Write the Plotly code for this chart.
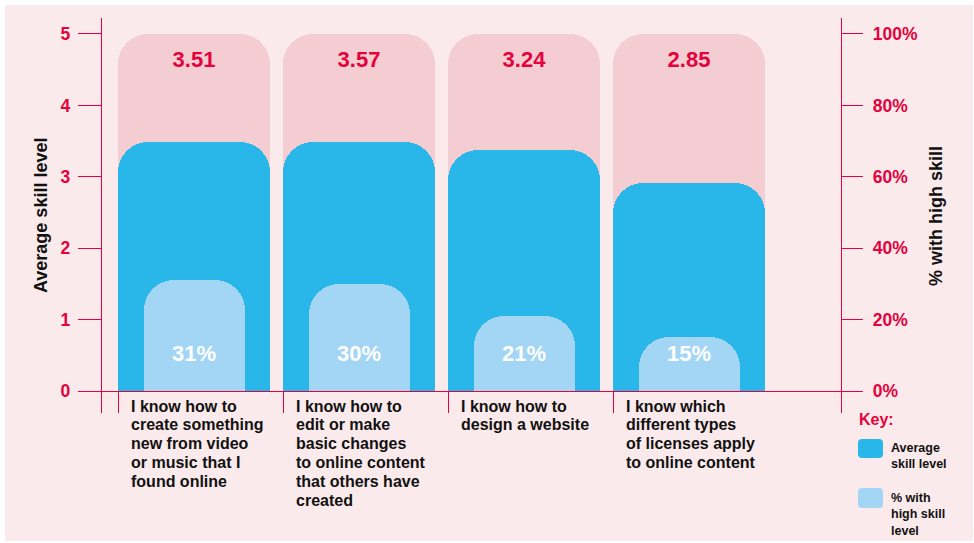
import plotly.graph_objects as go

# ---------------- data ----------------
categories = [
    "I know how to\ncreate something\nnew from video\nor music that I\nfound online",
    "I know how to\nedit or make\nbasic changes\nto online content\nthat others have\ncreated",
    "I know how to\ndesign a website",
    "I know which\ndifferent types\nof licenses apply\nto online content",
]
avg_labels = ["3.51", "3.57", "3.24", "2.85"]          # printed average skill
avg_bar_heights = [3.49, 3.49, 3.38, 2.91]             # bar heights as drawn
pct_high_skill = [31, 30, 21, 15]                      # % with high skill
scale_max = [5, 5, 5, 5]                               # top of skill scale
left_ticks = [0, 1, 2, 3, 4, 5]
right_ticks = [0, 20, 40, 60, 80, 100]
right_tick_text = [f"{v}%" for v in right_ticks]

# ---------------- style ----------------
RED = "#e3023d"
BG = "#fbeaeb"
PINK = "#f3cdd1"
BLUE = "#29b6e9"
LIGHT = "#a3d5f4"
FONT = "Liberation Sans, Arial, sans-serif"

W, H = 974, 543
L, R, T, B = 102, 133, 18, 130
PW, PH = W - L - R, H - T - B
BAR_W = 0.921
LIGHT_W = 0.612
X_RANGE = [-0.5576, 3.921]
Y_RANGE = [-0.308, 5.224]
PCT_RANGE = [Y_RANGE[0] * 20, Y_RANGE[1] * 20]
AVG_LABEL_Y = 4.62
PCT_LABEL_Y = 10

x = list(range(len(categories)))


def px(xp):
    return (xp - L) / PW


def py(yp):
    return (T + PH - yp) / PH


def rounded_rect(x0, y0, x1, y1, r):
    X0, X1 = px(x0), px(x1)
    Y0, Y1 = py(y0), py(y1)
    rx, ry = r / PW, r / PH
    return (f"M {X0+rx},{Y0} L {X1-rx},{Y0} Q {X1},{Y0} {X1},{Y0-ry} "
            f"L {X1},{Y1+ry} Q {X1},{Y1} {X1-rx},{Y1} L {X0+rx},{Y1} "
            f"Q {X0},{Y1} {X0},{Y1+ry} L {X0},{Y0-ry} Q {X0},{Y0} {X0+rx},{Y0} Z")


fig = go.Figure()

fig.add_trace(go.Bar(x=x, y=scale_max, width=BAR_W, yaxis="y",
                     marker=dict(color=PINK, line=dict(width=0), cornerradius=30),
                     showlegend=False, hoverinfo="skip"))
fig.add_trace(go.Bar(x=x, y=avg_bar_heights, width=BAR_W, yaxis="y2", name="Average skill level",
                     marker=dict(color=BLUE, line=dict(width=0), cornerradius=30), showlegend=False,
                     customdata=avg_labels, hovertemplate="%{customdata}<extra></extra>"))
fig.add_trace(go.Bar(x=x, y=pct_high_skill, width=LIGHT_W, yaxis="y3", name="% with high skill level",
                     marker=dict(color=LIGHT, line=dict(width=0), cornerradius=30), showlegend=False,
                     hovertemplate="%{y}%<extra></extra>"))

fig.add_trace(go.Scatter(x=x, y=[AVG_LABEL_Y] * len(x), yaxis="y2", mode="text", text=avg_labels,
                         textfont=dict(family=FONT, size=22, color=RED, weight="bold"),
                         showlegend=False, hoverinfo="skip"))
fig.add_trace(go.Scatter(x=x, y=[PCT_LABEL_Y] * len(x), yaxis="y3", mode="text",
                         text=[f"{p}%" for p in pct_high_skill],
                         textfont=dict(family=FONT, size=22, color="white", weight="bold"),
                         showlegend=False, hoverinfo="skip"))

annotations = []
LINE_H = 18.8
for i, cat in enumerate(categories):
    for j, line in enumerate(cat.split("\n")):
        annotations.append(dict(
            x=i - BAR_W / 2, y=0, xref="x", yref="y", xanchor="left", yanchor="middle",
            xshift=11, yshift=-(15 + j * LINE_H), text=line, showarrow=False,
            font=dict(family=FONT, size=16, color="#111111", weight="bold")))

annotations.append(dict(x=px(41), y=py(216), xref="paper", yref="paper", text="Average skill level",
                        textangle=-90, showarrow=False, xanchor="center", yanchor="middle",
                        font=dict(family=FONT, size=18, color="#111111", weight="bold")))
annotations.append(dict(x=px(936), y=py(216), xref="paper", yref="paper", text="% with high skill",
                        textangle=-90, showarrow=False, xanchor="center", yanchor="middle",
                        font=dict(family=FONT, size=18, color="#111111", weight="bold")))

annotations.append(dict(x=px(857), y=py(419), xref="paper", yref="paper", text="Key:", showarrow=False,
                        xanchor="left", yanchor="middle",
                        font=dict(family=FONT, size=16, color=RED, weight="bold")))
annotations.append(dict(x=px(889), y=py(456.5), xref="paper", yref="paper", text="Average<br>skill level",
                        showarrow=False, xanchor="left", yanchor="middle", align="left",
                        font=dict(family=FONT, size=12.5, color="#111111", weight="bold")))
annotations.append(dict(x=px(889), y=py(514), xref="paper", yref="paper", text="% with<br>high skill<br>level",
                        showarrow=False, xanchor="left", yanchor="middle", align="left",
                        font=dict(family=FONT, size=12.5, color="#111111", weight="bold")))

shapes = [
    dict(type="rect", xref="paper", yref="paper", x0=px(5), x1=px(973), y0=py(5), y1=py(541),
         fillcolor=BG, line=dict(width=0), layer="below"),
    dict(type="path", xref="paper", yref="paper", path=rounded_rect(858, 439, 883, 458, 4),
         fillcolor=BLUE, line=dict(width=0)),
    dict(type="path", xref="paper", yref="paper", path=rounded_rect(858, 488, 883, 508, 4),
         fillcolor=LIGHT, line=dict(width=0)),
]

tick_font = dict(family=FONT, size=17.5, color=RED, weight="bold")

fig.update_layout(
    width=W, height=H,
    margin=dict(l=L, r=R, t=T, b=B, autoexpand=False),
    paper_bgcolor="white", plot_bgcolor="rgba(0,0,0,0)",
    barmode="overlay", bargap=0,
    showlegend=False,
    annotations=annotations, shapes=shapes,
    xaxis=dict(range=X_RANGE, showgrid=False, zeroline=False, showline=False,
               tickmode="array", tickvals=[i - BAR_W / 2 for i in x], ticks="inside",
               ticklen=22, tickwidth=1.4, tickcolor=RED, showticklabels=False, fixedrange=True),
    yaxis=dict(range=Y_RANGE, tickmode="array", tickvals=left_ticks, ticks="outside", ticklen=23,
               tickwidth=1.4, tickcolor=RED, showline=True, linecolor=RED, linewidth=1.4,
               showgrid=False, zeroline=True, zerolinecolor=RED, zerolinewidth=1.4,
               tickfont=tick_font, ticklabelstandoff=4, automargin=False),
    yaxis2=dict(range=Y_RANGE, overlaying="y", side="left", anchor="x", visible=False,
                showgrid=False, zeroline=False),
    yaxis3=dict(range=PCT_RANGE, overlaying="y", side="right", anchor="x", tickmode="array",
                tickvals=right_ticks, ticktext=right_tick_text, ticks="outside", ticklen=21,
                tickwidth=1.4, tickcolor=RED, showline=True, linecolor=RED, linewidth=1.4,
                showgrid=False, zeroline=False, tickfont=tick_font,
                ticklabelstandoff=6, automargin=False),
)

fig.write_html("out.html", config={"displayModeBar": False},
               post_script="document.body.style.margin='0px';")
